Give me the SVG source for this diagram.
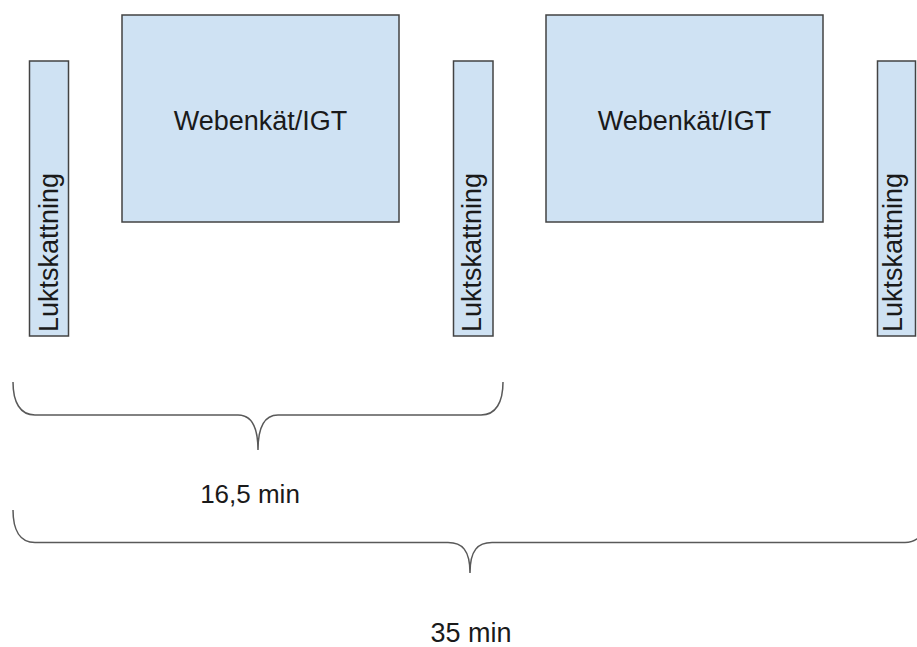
<svg xmlns="http://www.w3.org/2000/svg" width="917" height="647" viewBox="0 0 917 647">
<style>
.box{fill:#cfe2f3;stroke:#434343;stroke-width:1.5}
.t{font-family:"Liberation Sans",Arial,sans-serif;font-size:27px;fill:#1a1a1a}
.brace{fill:none;stroke:#595959;stroke-width:1.5}
</style>
<rect width="917" height="647" fill="#ffffff"/>
<g id="lukt1"><rect class="box" x="29.5" y="61" width="39" height="275"/><text class="t" x="58" y="332" transform="rotate(-90 58 332)">Luktskattning</text></g>
<g id="web1"><rect class="box" x="122" y="15" width="277" height="207"/><text class="t" x="260.5" y="130" text-anchor="middle">Webenkät/IGT</text></g>
<g id="lukt2"><rect class="box" x="453.5" y="61" width="39.5" height="275"/><text class="t" x="480.5" y="332" transform="rotate(-90 480.5 332)">Luktskattning</text></g>
<g id="web2"><rect class="box" x="546" y="15" width="277" height="207"/><text class="t" x="684.5" y="130" text-anchor="middle">Webenkät/IGT</text></g>
<g id="lukt3"><rect class="box" x="877.5" y="61" width="38" height="275"/><text class="t" x="901.5" y="332" transform="rotate(-90 901.5 332)">Luktskattning</text></g>
<g id="connectors">
<path class="brace" d="M13,382 C13,402 20,415 35,415 L238,415 C251,415 258,425 258,450 C258,425 265,415 278,415 L481,415 C496,415 503,402 503,382"/>
<path class="brace" d="M13,510 C13,530 20,542.5 35,542.5 L448,542.5 C462,542.5 470,550 470,573 C470,550 478,542.5 492,542.5 L905,542.5 C920,542.5 927,530 927,510"/>
</g>
<g id="label1"><text class="t" x="250" y="503" text-anchor="middle" style="font-size:26px">16,5 min</text></g>
<g id="label2"><text class="t" x="471" y="642" text-anchor="middle">35 min</text></g>
</svg>
